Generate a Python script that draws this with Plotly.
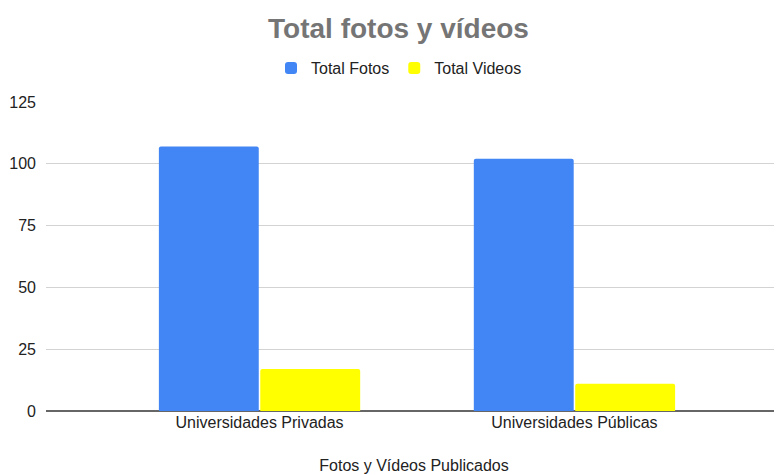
import plotly.graph_objects as go

categories = ["Universidades Privadas", "Universidades Públicas"]
total_fotos = [107, 102]
total_videos = [17, 11]
y_ticks = [0, 25, 50, 75, 100, 125]

FONT = "Arial, 'Liberation Sans', sans-serif"

# page body has an 8px margin, so the figure is 8px smaller and offsets are shifted
W, H = 774, 467

fig = go.Figure()
fig.add_trace(go.Bar(name="Total Fotos", x=categories, y=total_fotos,
                     marker=dict(color="#4285F4", line=dict(width=0))))
fig.add_trace(go.Bar(name="Total Videos", x=categories, y=total_videos,
                     marker=dict(color="#FFFF00", line=dict(width=0))))

fig.update_layout(
    width=W, height=H,
    margin=dict(l=38, r=0, t=94, b=64, autoexpand=False),
    paper_bgcolor="white", plot_bgcolor="white",
    font=dict(family=FONT, size=16, color="#222222"),
    title=dict(text="<b>Total fotos y vídeos</b>", xref="container", x=390.5 / W,
               xanchor="center", yref="container", y=1 - 20 / H, yanchor="middle",
               font=dict(family=FONT, size=28, color="#757575")),
    legend=dict(orientation="h", xref="container", x=391 / W, xanchor="center",
                yref="container", y=1 - 60 / H, yanchor="middle",
                font=dict(family=FONT, size=16, color="#222222"),
                itemsizing="constant"),
    barmode="group", bargap=0.356, bargroupgap=0.015,
    barcornerradius=2,
    showlegend=True,
)
fig.update_xaxes(range=[-0.678, 1.659], showgrid=False, showline=False,
                 ticks="", automargin=False, tickfont=dict(size=16, color="#222222"),
                 title=dict(text="Fotos y Vídeos Publicados", standoff=29,
                            font=dict(size=16, color="#222222")))
fig.update_yaxes(range=[0, 125], tickvals=y_ticks, showgrid=True,
                 gridcolor="#d3d3d3", gridwidth=1, zeroline=True,
                 zerolinecolor="#666666", zerolinewidth=2, showline=False,
                 ticks="", ticklabelstandoff=9, automargin=False,
                 tickfont=dict(size=16, color="#222222"))

fig.write_html("out.html")
